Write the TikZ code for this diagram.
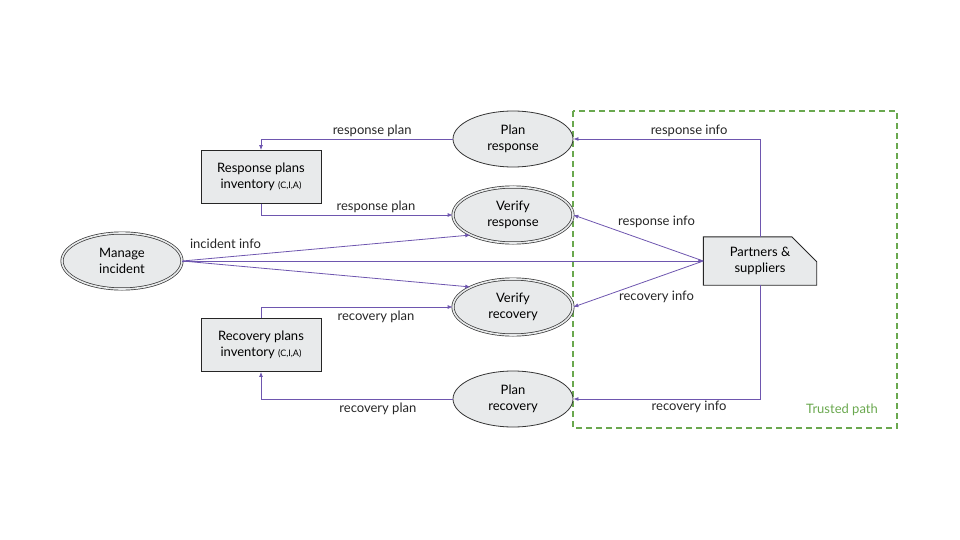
\documentclass[tikz,border=0pt]{standalone}
\usepackage{fontspec}
\setmainfont{Lato}
\usepackage{tikz}
\usetikzlibrary{arrows.meta, calc, positioning, shapes.geometric, backgrounds}
\usepackage{xcolor}
\definecolor{flowpurple}{RGB}{110,86,175}
\definecolor{trustgreen}{RGB}{106,168,79}
\definecolor{shapegray}{RGB}{232,234,235}

\begin{document}
\begin{tikzpicture}[x=1pt, y=-1pt, font=\fontsize{13}{15.5}\selectfont,
  process/.style={ellipse, draw=black!80, fill=shapegray, line width=0.8pt,
    minimum width=120pt, minimum height=56pt, inner sep=0pt, align=center},
  checkproc/.style={process, double=shapegray, double distance=1.6pt, line width=0.7pt},
  store/.style={rectangle, draw=black!85, fill=shapegray, line width=0.9pt,
    minimum width=120pt, minimum height=53pt, align=center},
  flow/.style={draw=flowpurple, line width=0.8pt, -{Latex[length=5pt,width=4pt]}},
  flowlabel/.style={inner sep=2pt, text=black!85}]
\useasboundingbox (0,0) rectangle (960,540);

% Trust boundary
\draw[trustgreen, line width=1.8pt, dash pattern=on 6pt off 4pt] (573,111) rectangle (897,428);
\node[text=trustgreen] (trustlbl) at (842,410) {Trusted path};

% Processes
\node[process]   (presp)  at (513,139) {Plan\\response};
\node[checkproc] (vresp)  at (513,215) {Verify\\response};
\node[checkproc] (vrec)   at (513,307) {Verify\\recovery};
\node[process]   (prec)   at (513,399) {Plan\\recovery};
\node[checkproc] (manage) at (122,261) {Manage\\incident};

% Data stores
\node[store] (rinv)  at (261,177) {Response plans\\inventory {\fontsize{9}{10}\selectfont(C,I,A)}};
\node[store] (rcinv) at (261,345) {Recovery plans\\inventory {\fontsize{9}{10}\selectfont(C,I,A)}};

% External entity (cut corner)
\node[minimum width=113pt, minimum height=48pt, align=center] (part) at (760,261) {Partners \&\\suppliers};
\begin{scope}[on background layer]
\draw[draw=black!85, fill=shapegray, line width=0.9pt]
  (part.south west) -- (part.north west) -- ([xshift=-25pt]part.north east)
  -- ([yshift=-25pt]part.north east) -- (part.south east) -- cycle;
\end{scope}

% Plan flows
\draw[flow] (presp.west) -| node[flowlabel, pos=0.21, above] {response plan} (rinv.north);
\draw[flow] (rinv.south) |- node[flowlabel, pos=0.80, above] {response plan} (vresp.west);
\draw[flow] (rcinv.north) |- node[flowlabel, pos=0.80, below=2pt] {recovery plan} (vrec.west);
\draw[flow] (prec.west) -| node[flowlabel, pos=0.195, below=2pt] {recovery plan} (rcinv.south);

% Incident flows
\draw[flow] (manage.east) -- node[flowlabel, pos=0.15, above=6pt] {incident info} (vresp.south west);
\draw[flow] (manage.east) -- (part.west);
\draw[flow] (manage.east) -- (vrec.north west);

% Partner flows
\draw[flow] (part.north) |- node[flowlabel, pos=0.69, above] {response info} (presp.east);
\draw[flow] (part.west) -- node[flowlabel, pos=0.36, above=14pt] {response info} (vresp.east);
\draw[flow] (part.west) -- node[flowlabel, pos=0.36, below=11pt] {recovery info} (vrec.east);
\draw[flow] (part.south) |- node[flowlabel, pos=0.69, below] {recovery info} (prec.east);

\end{tikzpicture}
\end{document}
